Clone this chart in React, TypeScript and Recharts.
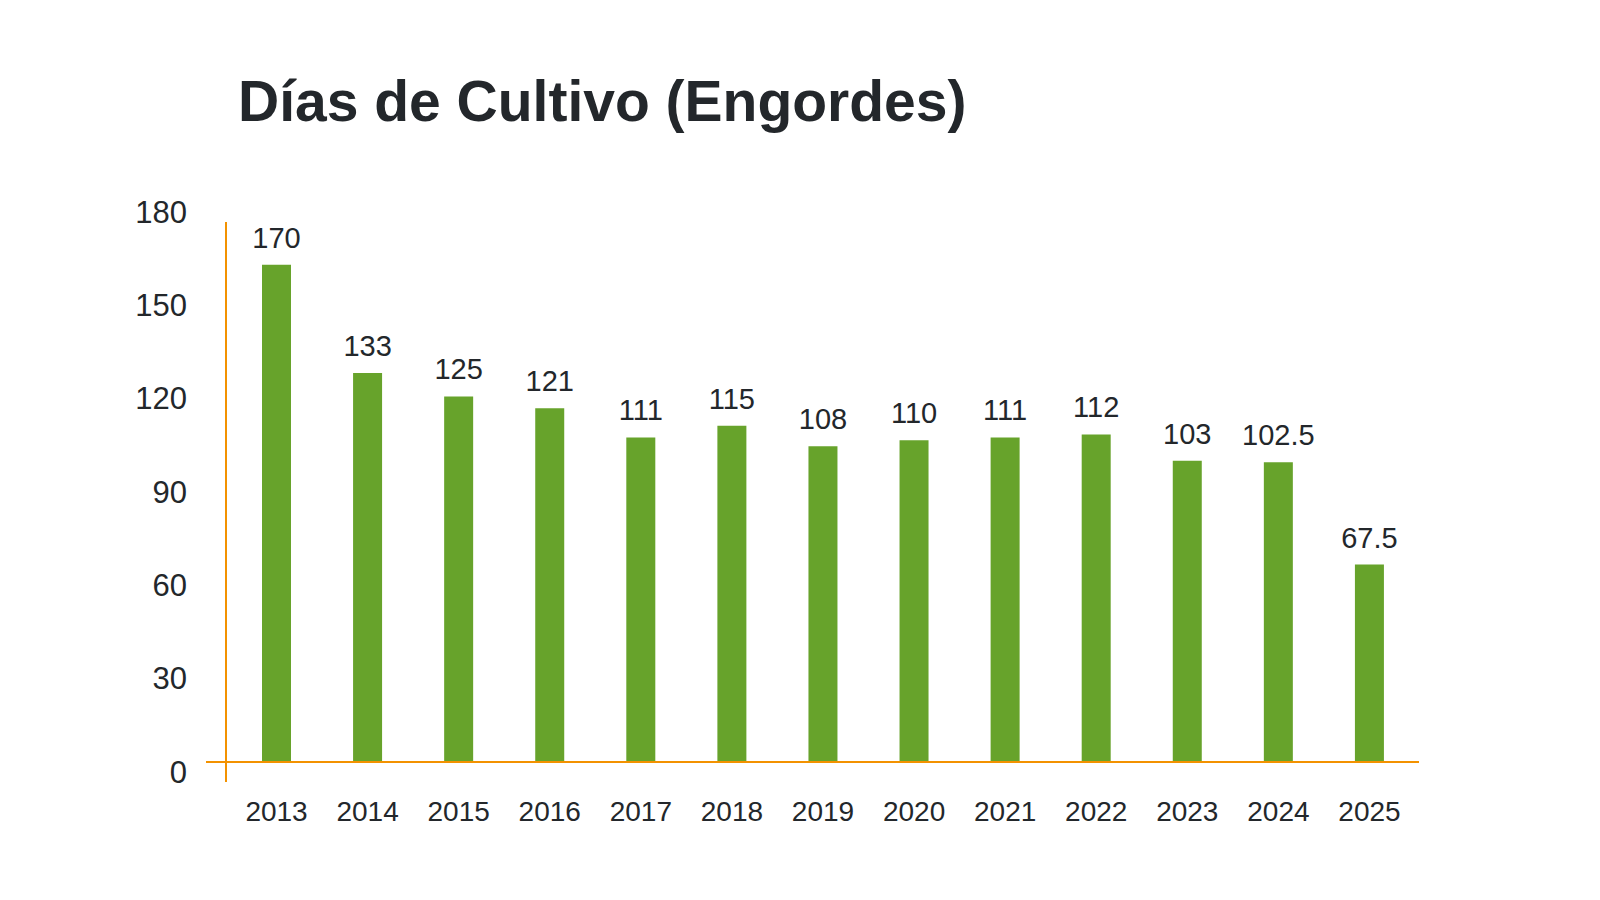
import React from "react";
import { BarChart, Bar, XAxis, YAxis, LabelList } from "recharts";

const years = ["2013", "2014", "2015", "2016", "2017", "2018", "2019", "2020", "2021", "2022", "2023", "2024", "2025"];
const dias = [170, 133, 125, 121, 111, 115, 108, 110, 111, 112, 103, 102.5, 67.5];
const yTicks = [0, 30, 60, 90, 120, 150, 180];

const data = years.map((year, i) => ({ year, dias: dias[i] }));

const TEXT = "#23272b";
const ORANGE = "#f39200";
const GREEN = "#67a32b";
const FONT = "'Liberation Sans', Arial, sans-serif";

const YTick = (props: any) => {
  const { x, y, payload } = props;
  return (
    <text x={x} y={y + 10} textAnchor="end" dominantBaseline="central" fill={TEXT} fontSize={31} fontFamily={FONT}>
      {payload.value}
    </text>
  );
};

const XTick = (props: any) => {
  const { x, y, payload } = props;
  return (
    <text x={x} y={y + 49} textAnchor="middle" dominantBaseline="central" fill={TEXT} fontSize={28} fontFamily={FONT}>
      {payload.value}
    </text>
  );
};

export default function App() {
  return (
    <div style={{ position: "absolute", left: 0, top: 0, width: 1600, height: 900, background: "#ffffff" }}>
      <div
        style={{
          position: "absolute",
          left: 238,
          top: 66,
          fontFamily: FONT,
          fontWeight: 700,
          fontSize: 57,
          color: TEXT,
          lineHeight: "70px",
          whiteSpace: "nowrap",
        }}
      >
        Días de Cultivo (Engordes)
      </div>
      <BarChart
        width={1600}
        height={900}
        data={data}
        margin={{ top: 202, right: 181, bottom: 78, left: 0 }}
        barCategoryGap={0}
      >
        <XAxis
          dataKey="year"
          axisLine={{ stroke: ORANGE, strokeWidth: 2 }}
          tickLine={false}
          tickSize={0}
          tickMargin={0}
          height={60}
          padding={{ left: 25, right: 4 }}
          tick={<XTick />}
          interval={0}
        />
        <YAxis
          yAxisId="t"
          type="number"
          domain={[0, 180]}
          ticks={yTicks}
          allowDataOverflow
          width={206}
          tickLine={false}
          tickSize={0}
          tickMargin={19}
          axisLine={{ stroke: ORANGE, strokeWidth: 2, transform: "translate(20,20)" }}
          tick={<YTick />}
        />
        <YAxis yAxisId="v" type="number" domain={[0, 191.5]} hide allowDataOverflow />
        <Bar yAxisId="v" dataKey="dias" fill={GREEN} barSize={29} isAnimationActive={false}>
          <LabelList
            dataKey="dias"
            position="top"
            offset={17}
            fill={TEXT}
            fontSize={29}
            fontFamily={FONT}
          />
        </Bar>
      </BarChart>
    </div>
  );
}
